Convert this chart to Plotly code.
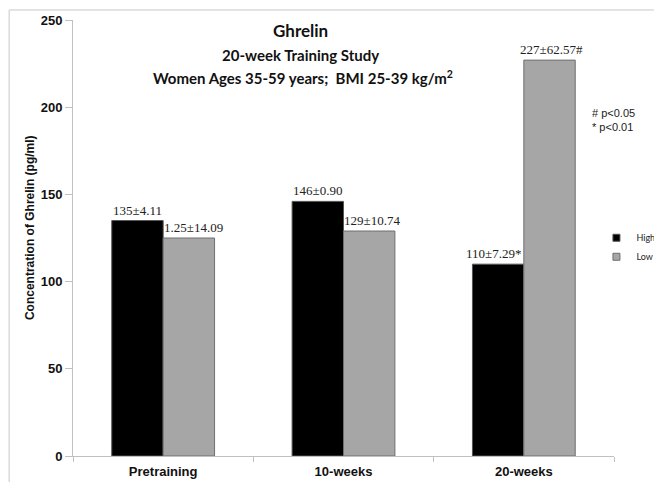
import plotly.graph_objects as go

categories = ["Pretraining", "10-weeks", "20-weeks"]
high_values = [135, 146, 110]
low_values = [125, 129, 227]
high_labels = ["135±4.11", "146±0.90", "110±7.29*"]
low_labels = ["1.25±14.09", "129±10.74", "227±62.57#"]
y_ticks = [0, 50, 100, 150, 200, 250]

sans = "Liberation Sans, Arial, sans-serif"
title_font = "Lato, Calibri, sans-serif"
serif = "Liberation Serif, Times New Roman, serif"

W, H = 654, 482
ML, MR, MT, MB = 73, 40, 20, 26
BARGAP = 0.43
cat_px = (W - ML - MR) / len(categories)
half_bar = cat_px * (1 - BARGAP) / 4  # offset from category centre to each bar centre

HIGH_COLOR, LOW_COLOR = "#000000", "#a6a6a6"

fig = go.Figure()
fig.add_trace(go.Bar(
    name="High", x=categories, y=high_values, showlegend=False,
    marker=dict(color=HIGH_COLOR, line=dict(color="#555555", width=1)),
))
fig.add_trace(go.Bar(
    name="Low", x=categories, y=low_values, showlegend=False,
    marker=dict(color=LOW_COLOR, line=dict(color="#6f6f6f", width=1)),
))
# legend entries with small square keys (no points drawn)
fig.add_trace(go.Scatter(name="High", x=[None], y=[None], mode="markers",
                         marker=dict(symbol="square", size=7, color=HIGH_COLOR,
                                     line=dict(color="#555555", width=1))))
fig.add_trace(go.Scatter(name="Low", x=[None], y=[None], mode="markers",
                         marker=dict(symbol="square", size=7, color=LOW_COLOR,
                                     line=dict(color="#6f6f6f", width=1))))

# value labels above bars
high_nudge = [0, 0, -5]
low_nudge = [5, 3, 2]
for i, c in enumerate(categories):
    fig.add_annotation(x=c, y=high_values[i], text=high_labels[i], showarrow=False,
                       xanchor="center", yanchor="bottom", xshift=-half_bar + high_nudge[i], yshift=1,
                       font=dict(family=serif, size=13, color="#222"))
    fig.add_annotation(x=c, y=low_values[i], text=low_labels[i], showarrow=False,
                       xanchor="center", yanchor="bottom", xshift=half_bar + low_nudge[i], yshift=1,
                       font=dict(family=serif, size=13, color="#222"))

fig.update_layout(
    width=W, height=H,
    margin=dict(l=ML, r=MR, t=MT, b=MB, autoexpand=False),
    paper_bgcolor="white", plot_bgcolor="white",
    barmode="group", bargap=BARGAP, bargroupgap=0,
    showlegend=True,
    legend=dict(xref="container", yref="container", x=0.912, y=0.487,
                xanchor="left", yanchor="middle",
                font=dict(family=title_font, size=9, color="#222"),
                itemwidth=30, tracegroupgap=2,
                bgcolor="rgba(0,0,0,0)"),
    xaxis=dict(
        showline=True, linecolor="#c0c0c0", linewidth=1,
        ticks="outside", tickson="boundaries", ticklen=5, tickcolor="#c0c0c0",
        tickfont=dict(family=sans, size=13, color="#111", weight="bold"),
        ticklabelstandoff=3,
        showgrid=False, zeroline=False,
    ),
    yaxis=dict(
        range=[0, 250], tickvals=y_ticks,
        showline=True, linecolor="#c0c0c0", linewidth=1,
        ticks="outside", ticklen=7, tickcolor="#c0c0c0",
        tickfont=dict(family=sans, size=13, color="#111", weight="bold"),
        showgrid=False, zeroline=False,
    ),
    font=dict(family=sans),
)

# y-axis title
fig.add_annotation(text="<b>Concentration of Ghrelin (pg/ml)</b>", textangle=-90,
                   x=-0.0795, y=0.525, xref="paper", yref="paper",
                   xanchor="center", yanchor="middle", showarrow=False,
                   font=dict(family=sans, size=12, color="#111"))

titles = [
    dict(text="<b>Ghrelin</b>", x=0.42, y=0.975, size=17),
    dict(text="<b>20-week Training Study</b>", x=0.42, y=0.92, size=15),
    dict(text="<b>Women Ages 35-59 years;  BMI 25-39 kg/m<sup>2</sup></b>", x=0.425, y=0.868, size=15),
]
for a in titles:
    fig.add_annotation(text=a["text"], x=a["x"], y=a["y"], xref="paper", yref="paper",
                       xanchor="center", yanchor="middle", showarrow=False,
                       font=dict(family=title_font, size=a["size"], color="#111"))

fig.add_annotation(text="# p<0.05<br>* p<0.01", x=0.955, y=0.771, xref="paper", yref="paper",
                   xanchor="left", yanchor="middle", align="left", showarrow=False,
                   font=dict(family=sans, size=11, color="#222"))

# outer frame of the chart image
fig.add_shape(type="rect", xref="paper", yref="paper",
              x0=-0.118, x1=1.2, y0=-0.2, y1=1.023,
              line=dict(color="#c8c8c8", width=1), fillcolor="rgba(0,0,0,0)", layer="below")

fig.write_html("out.html", config={"displayModeBar": False},
               post_script="document.body.style.margin='0';document.documentElement.style.overflow='hidden';")
